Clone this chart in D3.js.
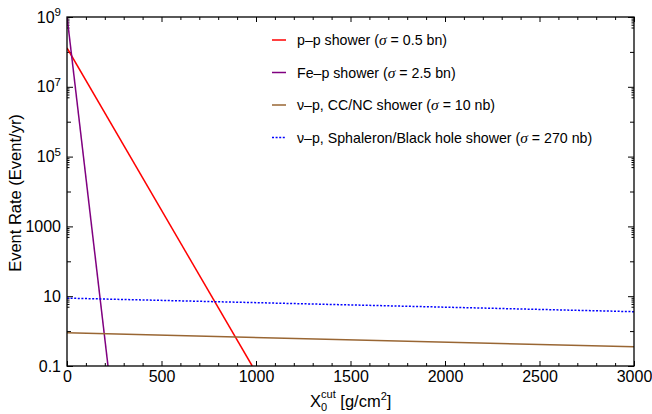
<!DOCTYPE html>
<html>
<head>
<meta charset="UTF-8">
<script src="https://d3js.org/d3.v7.min.js"></script>
<style>
  body { margin: 0; background: #fff; }
  svg { display: block; font-family: "Liberation Sans", Arial, Helvetica, sans-serif; }
  .sig { font-family: "Liberation Serif", "Times New Roman", serif; font-style: italic; }
</style>
</head>
<body>
<svg id="chart" width="652" height="414"></svg>
<script>
// series: [X0cut (g/cm^2), event rate (event/yr)]
const ppShower = [[0, 1.3e8], [980, 0.1]];
const fepShower = [[0, 1.05e9], [217, 0.1]];
const ccncShower = [[0, 0.89], [3000, 0.355]];
const sphaleronShower = [[0, 8.8], [3000, 3.6]];

const seriesNames = ["p\u2013p shower", "Fe\u2013p shower", "\u03bd\u2013p, CC/NC shower", "\u03bd\u2013p, Sphaleron/Black hole shower"];
const seriesSigma = ["0.5 bn", "2.5 bn", "10 nb", "270 nb"];
const seriesColors = ["#ff0000", "#800080", "#996633", "#0000ff"];

const xTicks = [0, 500, 1000, 1500, 2000, 2500, 3000];
const yTickExps = [-1, 1, 3, 5, 7, 9];

const svg = d3.select("#chart");
const margin = {top: 17, right: 18, bottom: 48, left: 67};
const width = 652, height = 414;

const x = d3.scaleLinear().domain([0, 3000]).range([margin.left, width - margin.right]);
const y = d3.scaleLog().domain([0.1, 1e9]).range([height - margin.bottom, margin.top]);

// minor tick positions
const xMinor = d3.range(0, 3001, 100).filter(v => v % 500 !== 0);
const yMid = d3.range(-1, 10).filter(e => !yTickExps.includes(e)).map(e => Math.pow(10, e));
const ySmall = [];
yTickExps.forEach(e => {
    if (e > -1) [5, 6, 7, 8, 9].forEach(k => ySmall.push(k * Math.pow(10, e - 1)));
});

function noDomain(g) { g.select(".domain").remove(); }

// x ticks, bottom and top
svg.append("g").attr("transform", `translate(0,${y(0.1)})`)
    .call(d3.axisBottom(x).tickValues(xTicks).tickSize(-5).tickSizeOuter(0).tickPadding(5).tickFormat(d3.format("d")))
    .call(noDomain)
    .call(g => g.selectAll("text").attr("font-size", 16).attr("fill", "#000").attr("font-family", null));
svg.append("g").attr("transform", `translate(0,${y(0.1)})`)
    .call(d3.axisBottom(x).tickValues(xMinor).tickSize(-3).tickFormat(""))
    .call(noDomain);
svg.append("g").attr("transform", `translate(0,${y(1e9)})`)
    .call(d3.axisTop(x).tickValues(xTicks).tickSize(-5).tickFormat(""))
    .call(noDomain);
svg.append("g").attr("transform", `translate(0,${y(1e9)})`)
    .call(d3.axisTop(x).tickValues(xMinor).tickSize(-3).tickFormat(""))
    .call(noDomain);

// y ticks, left and right
[[d3.axisLeft, x(0)], [d3.axisRight, x(3000)]].forEach(([ax, pos], i) => {
    const major = svg.append("g").attr("transform", `translate(${pos},0)`)
        .call(ax(y).tickValues(yTickExps.map(e => Math.pow(10, e))).tickSize(-6).tickPadding(6)
            .tickFormat(i === 0 ? (d => d) : ""))
        .call(noDomain);
    svg.append("g").attr("transform", `translate(${pos},0)`)
        .call(ax(y).tickValues(yMid).tickSize(-4).tickFormat("")).call(noDomain);
    svg.append("g").attr("transform", `translate(${pos},0)`)
        .call(ax(y).tickValues(ySmall).tickSize(-2.5).tickFormat("")).call(noDomain);
    if (i === 0) {
        major.selectAll("text")
            .attr("font-size", 16).attr("fill", "#000").attr("font-family", null)
            .each(function (d) {
                const t = d3.select(this);
                const e = Math.round(Math.log10(d));
                t.text(null);
                if (e >= 5) {
                    t.append("tspan").text("10");
                    t.append("tspan").attr("font-size", 11.5).attr("dy", -6.5).text(e);
                } else {
                    t.text(e === -1 ? "0.1" : d3.format("d")(d));
                }
            });
    }
});

svg.selectAll(".tick line").attr("stroke", "#000");

// series lines
const line = d3.line().x(d => x(d[0])).y(d => y(d[1]));
svg.append("clipPath").attr("id", "plotclip").append("rect")
    .attr("x", x(0)).attr("y", y(1e9)).attr("width", x(3000) - x(0)).attr("height", y(0.1) - y(1e9));

const allSeries = [ppShower, fepShower, ccncShower, sphaleronShower];
const plot = svg.append("g").attr("clip-path", "url(#plotclip)");
allSeries.forEach((s, i) => {
    plot.append("path")
        .datum(s)
        .attr("fill", "none")
        .attr("stroke", seriesColors[i])
        .attr("stroke-width", 1.5)
        .attr("stroke-dasharray", i === 3 ? "2,1.6" : null)
        .attr("d", line);
});

// frame
svg.append("rect")
    .attr("x", x(0)).attr("y", y(1e9))
    .attr("width", x(3000) - x(0)).attr("height", y(0.1) - y(1e9))
    .attr("fill", "none").attr("stroke", "#000").attr("stroke-width", 1.3);

// legend
const legend = svg.append("g").attr("transform", "translate(272,40)");
seriesNames.forEach((name, i) => {
    const row = legend.append("g").attr("transform", `translate(0,${i * 32.5})`);
    row.append("line")
        .attr("x1", 0).attr("x2", 14).attr("y1", 0).attr("y2", 0)
        .attr("stroke", seriesColors[i]).attr("stroke-width", 1.5)
        .attr("stroke-dasharray", i === 3 ? "2,1.6" : null);
    const t = row.append("text").attr("x", 25).attr("y", 5).attr("font-size", 14.2);
    t.append("tspan").text(name + " (");
    t.append("tspan").attr("class", "sig").attr("font-size", 15.5).text("\u03c3");
    t.append("tspan").text(" = " + seriesSigma[i] + ")");
});

// axis labels
const xl = svg.append("text").attr("x", 310).attr("y", 407).attr("font-size", 16.5);
xl.append("tspan").text("X");
xl.append("tspan").attr("font-size", 11).attr("dy", 4).text("0");
xl.append("tspan").attr("font-size", 11).attr("dx", -6.1).attr("dy", -13).text("cut");
xl.append("tspan").attr("dy", 9).text(" [g/cm");
xl.append("tspan").attr("font-size", 11).attr("dy", -7).text("2");
xl.append("tspan").attr("dy", 7).text("]");

svg.append("text")
    .attr("transform", "translate(21,193) rotate(-90)")
    .attr("text-anchor", "middle")
    .attr("font-size", 16.5)
    .text("Event Rate (Event/yr)");
</script>
</body>
</html>
